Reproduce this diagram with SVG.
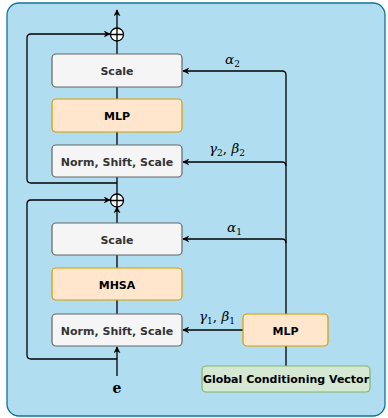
<svg xmlns="http://www.w3.org/2000/svg" width="388" height="418" viewBox="0 0 388 418">
  <style>
    .box-grey { fill: #f5f5f5; stroke: #666666; stroke-width: 1.2; }
    .box-orange { fill: #ffe6cc; stroke: #d79b00; stroke-width: 1.2; }
    .box-green { fill: #d5e8d4; stroke: #82b366; stroke-width: 1.2; }
    .lbl { font-family: "DejaVu Sans", "Noto Sans", sans-serif; font-weight: bold; font-size: 11px; text-anchor: middle; }
    .lbl-grey { fill: #333333; }
    .lbl-black { fill: #000000; }
    .math { font-family: "DejaVu Serif", "Liberation Serif", serif; font-style: italic; font-size: 13.5px; fill: #000; }
    .sub { font-size: 9px; font-style: normal; }
    .wire { fill: none; stroke: #000; stroke-width: 1.3; }
    .sum { fill: #ffffff; stroke: #000; stroke-width: 1.3; }
  </style>
  <defs>
    <marker id="arrow" viewBox="0 0 10 10" refX="9" refY="5" markerWidth="7" markerHeight="7" orient="auto-start-reverse" markerUnits="userSpaceOnUse">
      <path d="M0,0 L10,5 L0,10 L3,5 Z" fill="#000"/>
    </marker>
  </defs>

  <!-- outer block -->
  <rect id="container" x="7" y="3" width="378" height="413" rx="12" ry="12" fill="#b1ddf0" stroke="#10739e" stroke-width="1.3"/>

  <g id="connectors">
    <!-- main stream -->
    <line class="wire" x1="117" y1="28" x2="117" y2="10" marker-end="url(#arrow)"/>
    <line class="wire" x1="117" y1="54" x2="117" y2="41"/>
    <line class="wire" x1="117" y1="87" x2="117" y2="99"/>
    <line class="wire" x1="117" y1="132" x2="117" y2="145"/>
    <line class="wire" x1="117" y1="177" x2="117" y2="194"/>
    <line class="wire" x1="117" y1="223" x2="117" y2="207" marker-end="url(#arrow)"/>
    <line class="wire" x1="117" y1="255" x2="117" y2="268"/>
    <line class="wire" x1="117" y1="300" x2="117" y2="314"/>
    <line class="wire" x1="117" y1="376" x2="117" y2="347" marker-end="url(#arrow)"/>
    <!-- residual skips -->
    <path class="wire" d="M117,183 H31 Q27,183 27,179 V38 Q27,34 31,34 H110" marker-end="url(#arrow)"/>
    <path class="wire" d="M117,359 H31 Q27,359 27,355 V204 Q27,200 31,200 H110" marker-end="url(#arrow)"/>
    <!-- conditioning branches -->
    <path class="wire" d="M286,314 V75 Q286,71 282,71 H183" marker-end="url(#arrow)"/>
    <path class="wire" d="M286,166 Q286,162 282,162 H183" marker-end="url(#arrow)"/>
    <path class="wire" d="M286,243 Q286,239 282,239 H183" marker-end="url(#arrow)"/>
    <line class="wire" x1="243" y1="330" x2="183" y2="330" marker-end="url(#arrow)"/>
    <line class="wire" x1="286" y1="346" x2="286" y2="366"/>
  </g>

  <!-- summation nodes -->
  <g id="add-top">
    <circle class="sum" cx="117" cy="34.5" r="6.5"/>
    <path class="wire" d="M110.5,34.5 H123.5 M117,28 V41"/>
  </g>
  <g id="add-bottom">
    <circle class="sum" cx="117" cy="200.5" r="6.5"/>
    <path class="wire" d="M110.5,200.5 H123.5 M117,194 V207"/>
  </g>

  <!-- second block -->
  <g id="scale-2">
    <rect class="box-grey" x="52" y="54" width="130" height="33" rx="4"/>
    <text class="lbl lbl-grey" x="117" y="75">Scale</text>
  </g>
  <g id="mlp-block">
    <rect class="box-orange" x="52" y="99" width="130" height="33" rx="4"/>
    <text class="lbl lbl-black" x="117" y="120">MLP</text>
  </g>
  <g id="norm-2">
    <rect class="box-grey" x="52" y="145" width="130" height="32" rx="4"/>
    <text class="lbl lbl-grey" x="117" y="165.5" font-size="11.5px">Norm, Shift, Scale</text>
  </g>

  <!-- first block -->
  <g id="scale-1">
    <rect class="box-grey" x="52" y="223" width="130" height="32" rx="4"/>
    <text class="lbl lbl-grey" x="117" y="243.5">Scale</text>
  </g>
  <g id="mhsa">
    <rect class="box-orange" x="52" y="268" width="130" height="32" rx="4"/>
    <text class="lbl lbl-black" x="117" y="288.5">MHSA</text>
  </g>
  <g id="norm-1">
    <rect class="box-grey" x="52" y="314" width="130" height="32" rx="4"/>
    <text class="lbl lbl-grey" x="117" y="334.5" font-size="11.5px">Norm, Shift, Scale</text>
  </g>

  <!-- conditioning path -->
  <g id="mlp-cond">
    <rect class="box-orange" x="243" y="314" width="85" height="32" rx="4"/>
    <text class="lbl lbl-black" x="285.5" y="334.5">MLP</text>
  </g>
  <g id="global-cond">
    <rect class="box-green" x="202" y="366" width="168" height="26" rx="4"/>
    <text class="lbl lbl-black" x="286" y="383" font-size="10px">Global Conditioning Vector</text>
  </g>

  <!-- labels -->
  <text class="math" x="225" y="64">α<tspan class="sub" dy="3">2</tspan></text>
  <text class="math" x="209" y="153">γ<tspan class="sub" dy="3">2</tspan><tspan dy="-3" font-style="normal">, </tspan>β<tspan class="sub" dy="3">2</tspan></text>
  <text class="math" x="227" y="232">α<tspan class="sub" dy="3">1</tspan></text>
  <text class="math" x="199" y="321">γ<tspan class="sub" dy="3">1</tspan><tspan dy="-3" font-style="normal">, </tspan>β<tspan class="sub" dy="3">1</tspan></text>
  <text x="117" y="393" text-anchor="middle" font-family="DejaVu Serif, Liberation Serif, serif" font-weight="bold" font-size="14px" fill="#000">e</text>
</svg>
